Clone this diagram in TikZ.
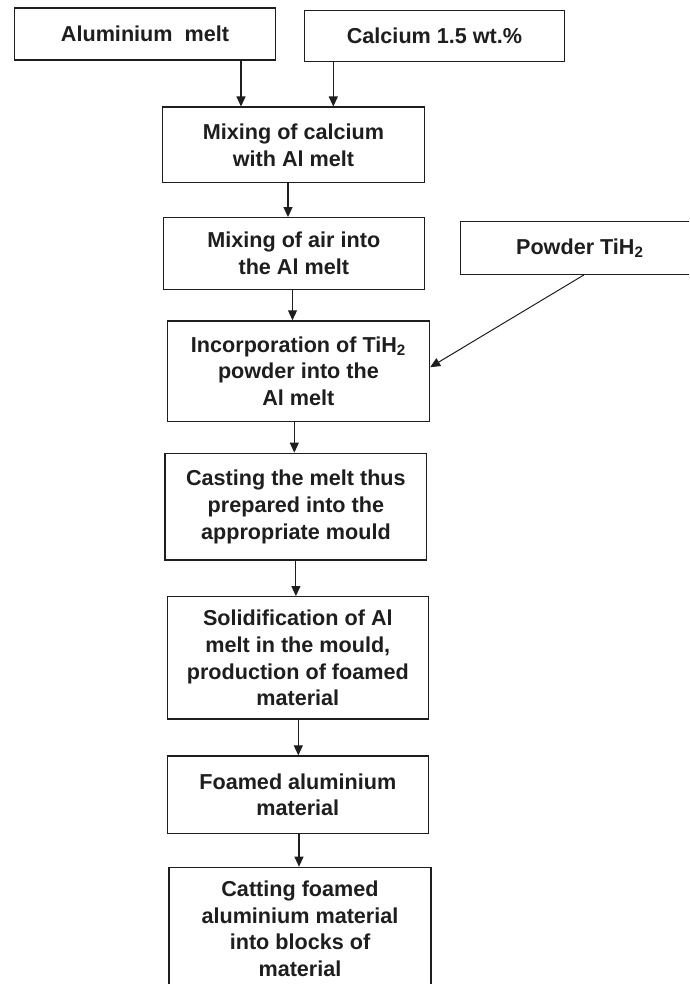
\documentclass[tikz,border=0pt]{standalone}
\usepackage{fontspec}
\setmainfont{Liberation Sans}
\usetikzlibrary{arrows.meta}
\definecolor{ink}{HTML}{1E1E1E}
\begin{document}
\begin{tikzpicture}[x=1pt,y=-1pt,
  box/.style={draw=ink, line width=1.4pt, rectangle, inner sep=0pt, align=center, text=ink,
    font=\bfseries\fontsize{21.6}{26.8}\selectfont},
  arr/.style={draw=ink, line width=1.1pt, -{Triangle[length=10pt,width=9pt]}}]
\useasboundingbox (0,0) rectangle (689,984);
\clip (0,0) rectangle (689,984);
\fill[white] (0,0) rectangle (689,984);
\node[box, minimum width=261pt, minimum height=52pt] (A) at (145,34) {Aluminium~~melt};
\node[box, minimum width=260pt, minimum height=51.5pt] (B) at (434.5,36) {Calcium 1.5 wt.\%};
\node[box, minimum width=261.6pt, minimum height=75.6pt] (C) at (293.5,145) {Mixing of calcium\\with Al melt};
\node[box, minimum width=261pt, minimum height=71.5pt] (D) at (293.8,253.5) {Mixing of air into\\the Al melt};
\node[box, minimum width=239pt, minimum height=52.6pt] (E) at (579.8,248) {Powder TiH\textsubscript{2}};
\node[box, minimum width=262.2pt, minimum height=100.5pt] (F) at (298.4,371.2) {Incorporation of TiH\textsubscript{2}\\powder into the\\Al melt};
\node[box, minimum width=261.7pt, minimum height=106.7pt] (G) at (295.9,506.7) {Casting the melt thus\\prepared into the\\appropriate mould};
\node[box, minimum width=261pt, minimum height=122.3pt] (H) at (297.8,657.9) {Solidification of Al\\melt in the mould,\\production of foamed\\material};
\node[box, minimum width=261pt, minimum height=77.3pt] (I) at (297.8,794.7) {Foamed aluminium\\material};
\node[box, minimum width=262pt, minimum height=122.7pt] (J) at (300,928.7) {Catting foamed\\aluminium material\\into blocks of\\material};
\draw[arr] ([xshift=96]A.south) -- ([xshift=96]A.south |- C.north);
\draw[arr] ([xshift=-101.2]B.south) -- ([xshift=-101.2]B.south |- C.north);
\draw[arr] ([xshift=-5.5]C.south) -- ([xshift=-5.5]C.south |- D.north);
\draw[arr] ([xshift=-1.3]D.south) -- ([xshift=-1.3]D.south |- F.north);
\draw[arr] ([xshift=-4.1]F.south) -- ([xshift=-4.1]F.south |- G.north);
\draw[arr] (G.south) -- (G.south |- H.north);
\draw[arr] ([xshift=0.5]H.south) -- ([xshift=0.5]H.south |- I.north);
\draw[arr] ([xshift=1.2]I.south) -- ([xshift=1.2]I.south |- J.north);
\draw[arr, line width=1pt] ([xshift=4]E.south) -- ([yshift=4]F.east);
\end{tikzpicture}
\end{document}
